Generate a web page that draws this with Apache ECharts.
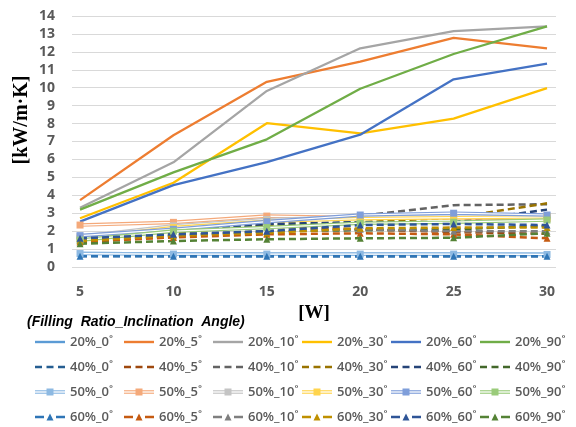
<!DOCTYPE html>
<html>
<head>
<meta charset="utf-8">
<script src="https://cdn.jsdelivr.net/npm/echarts@6/dist/echarts.min.js"></script>
<style>
  html, body { margin: 0; padding: 0; background: #fff; }
  #chart { width: 576px; height: 427px; }
</style>
</head>
<body>
<div id="chart"></div>
<script>
// Heat-pipe effective thermal conductivity vs. heat input
const powerW = [5, 10, 15, 20, 25, 30];
const angles = ['0˚', '5˚', '10˚', '30˚', '60˚', '90˚'];
const yTicks = [0, 14, 1];

// one row per inclination angle, one value per heat input [kW/m·K]
const ratio20 = [
  [0.78, 0.76, 0.75, 0.75, 0.74, 0.74],
  [3.73, 7.35, 10.33, 11.45, 12.78, 12.2],
  [3.3, 5.84, 9.82, 12.2, 13.16, 13.42],
  [2.72, 4.7, 8.02, 7.45, 8.28, 9.98],
  [2.53, 4.57, 5.85, 7.38, 10.47, 11.34],
  [3.2, 5.28, 7.12, 9.94, 11.88, 13.42]
];
const ratio40 = [
  [0.62, 0.6, 0.6, 0.6, 0.6, 0.6],
  [1.65, 2.2, 2.25, 2.1, 1.95, 1.85],
  [1.7, 2.0, 2.4, 2.85, 3.45, 3.5],
  [1.6, 1.9, 2.3, 2.5, 2.75, 3.55],
  [1.75, 2.0, 2.4, 2.5, 2.5, 3.2],
  [1.35, 1.75, 2.0, 2.05, 2.1, 2.3]
];
const ratio50 = [
  [0.75, 0.72, 0.72, 0.72, 0.72, 0.7],
  [2.34, 2.49, 2.84, 2.75, 2.75, 2.7],
  [1.7, 2.3, 2.65, 2.8, 2.85, 2.85],
  [1.6, 2.2, 2.55, 2.7, 2.75, 2.8],
  [1.75, 2.1, 2.53, 2.9, 3.0, 2.9],
  [1.5, 2.0, 2.2, 2.44, 2.5, 2.62]
];
const ratio60 = [
  [0.6, 0.6, 0.6, 0.6, 0.6, 0.6],
  [1.4, 1.65, 1.82, 1.88, 1.82, 1.6],
  [1.5, 1.8, 2.0, 2.1, 2.0, 2.0],
  [1.45, 1.75, 1.9, 2.16, 2.2, 2.2],
  [1.6, 1.82, 2.0, 2.34, 2.4, 2.34],
  [1.3, 1.45, 1.55, 1.6, 1.63, 1.88]
];

const colors20 = ['#5B9BD5', '#ED7D31', '#A5A5A5', '#FFC000', '#4472C4', '#70AD47'];
const colors40 = ['#255E91', '#9E480E', '#636363', '#997300', '#264478', '#43682B'];
const colors50 = ['#8DB9E2', '#F4A97A', '#C4C4C4', '#FFD44D', '#7F9EDA', '#9ACB7A'];
const colors60 = ['#2E75B6', '#C55A11', '#7F7F7F', '#BF9000', '#2F5597', '#548235'];

const textColor = '#595959';
const pts = vals => powerW.map((x, i) => [x, vals[i]]);
const nameOf = (r, k) => r + '%_' + angles[k];

// legend swatches: solid, dashed, hollow with square, dashed with triangle
function legendIcon(kind, c) {
  let body = '';
  if (kind === 'solid') {
    body = '<line x1="0" y1="5" x2="30" y2="5" stroke="' + c + '" stroke-width="2.4"/>';
  } else if (kind === 'dash') {
    body = '<path d="M0 5H7M11.5 5H18.5M23 5H30" stroke="' + c + '" stroke-width="2.6"/>';
  } else if (kind === 'hollow') {
    body = '<line x1="0" y1="5" x2="30" y2="5" stroke="' + c + '" stroke-width="3.6"/>' +
      '<line x1="0" y1="5" x2="30" y2="5" stroke="#fff" stroke-width="1.3"/>' +
      '<rect x="11.5" y="1.5" width="7" height="7" fill="' + c + '"/>';
  } else {
    body = '<path d="M0 5H9M21 5H30" stroke="' + c + '" stroke-width="2.6"/>' +
      '<path d="M15 1.5L18.5 8.5H11.5Z" fill="' + c + '"/>';
  }
  const svg = '<svg xmlns="http://www.w3.org/2000/svg" width="30" height="10" viewBox="0 0 30 10">' + body + '</svg>';
  return 'image://data:image/svg+xml;charset=utf-8,' + encodeURIComponent(svg);
}

const series = [];
angles.forEach((a, k) => {
  series.push({
    name: nameOf(20, k), type: 'line', data: pts(ratio20[k]), symbol: 'none',
    lineStyle: { color: colors20[k], width: 2.3 }, itemStyle: { color: colors20[k] }, z: 2
  });
});
angles.forEach((a, k) => {
  series.push({
    name: nameOf(40, k), type: 'line', data: pts(ratio40[k]), symbol: 'none',
    lineStyle: { color: colors40[k], width: 2.5, type: [7, 4] }, itemStyle: { color: colors40[k] }, z: 2
  });
});
angles.forEach((a, k) => {
  series.push({
    name: nameOf(50, k), type: 'line', data: pts(ratio50[k]), symbol: 'none',
    lineStyle: { color: colors50[k], width: 3.6 }, itemStyle: { color: colors50[k] }, z: 2
  });
  // white core and square markers of the same line
  series.push({
    name: nameOf(50, k) + ' core', type: 'line', data: pts(ratio50[k]), symbol: 'rect', symbolSize: 7,
    lineStyle: { color: '#ffffff', width: 1.2 }, itemStyle: { color: colors50[k] }, z: 2, silent: true
  });
});
angles.forEach((a, k) => {
  series.push({
    name: nameOf(60, k), type: 'line', data: pts(ratio60[k]), symbol: 'triangle', symbolSize: 7,
    lineStyle: { color: colors60[k], width: 2.5, type: [7, 4] }, itemStyle: { color: colors60[k] }, z: 2
  });
});

const legendRows = [
  { ratio: 20, kind: 'solid', colors: colors20, top: 335 },
  { ratio: 40, kind: 'dash', colors: colors40, top: 360 },
  { ratio: 50, kind: 'hollow', colors: colors50, top: 385 },
  { ratio: 60, kind: 'tri', colors: colors60, top: 410 }
];
const legendTextStyle = { color: textColor, fontFamily: 'Open Sans', fontWeight: 600, fontSize: 13, width: 54, lineHeight: 14 };
const legends = legendRows.map(row => ({
  left: 35, top: row.top, orient: 'horizontal',
  itemWidth: 30, itemHeight: 10, itemGap: 0, padding: 0,
  selectedMode: false,
  textStyle: legendTextStyle,
  data: angles.map((a, k) => ({ name: nameOf(row.ratio, k), icon: legendIcon(row.kind, row.colors[k]) }))
}));

const chart = echarts.init(document.getElementById('chart'), null, { renderer: 'canvas' });
chart.setOption({
  animation: false,
  backgroundColor: '#ffffff',
  grid: { left: 72, right: 20, top: 16, bottom: 160, containLabel: false },
  legend: legends,
  xAxis: {
    type: 'value', min: 4.57, max: 30.48,
    name: '[W]', nameLocation: 'middle', nameGap: 33,
    nameTextStyle: { fontFamily: 'Liberation Serif', fontWeight: 'bold', fontSize: 19, color: '#000' },
    axisLine: { show: false }, axisTick: { show: false }, splitLine: { show: false },
    axisLabel: {
      customValues: powerW, margin: 18,
      color: textColor, fontFamily: 'Open Sans', fontWeight: 700, fontSize: 14
    }
  },
  yAxis: {
    type: 'value', min: yTicks[0], max: yTicks[1], interval: yTicks[2],
    axisLine: { show: false }, axisTick: { show: false },
    splitLine: { lineStyle: { color: '#D9D9D9', width: 1 } },
    axisLabel: { margin: 17, color: textColor, fontFamily: 'Open Sans', fontWeight: 700, fontSize: 14 }
  },
  graphic: [
    {
      type: 'text', x: 22, y: 120, rotation: Math.PI / 2,
      style: {
        text: '[kW/m·K]', fill: '#000', font: 'bold 20px "Liberation Serif"',
        align: 'center', verticalAlign: 'middle'
      }
    },
    {
      type: 'text', x: 27, y: 322,
      style: {
        text: '(Filling  Ratio_Inclination  Angle)', fill: '#000',
        font: 'italic bold 14px "Liberation Sans"', align: 'left', verticalAlign: 'middle'
      }
    }
  ],
  series: series
});
</script>
</body>
</html>
